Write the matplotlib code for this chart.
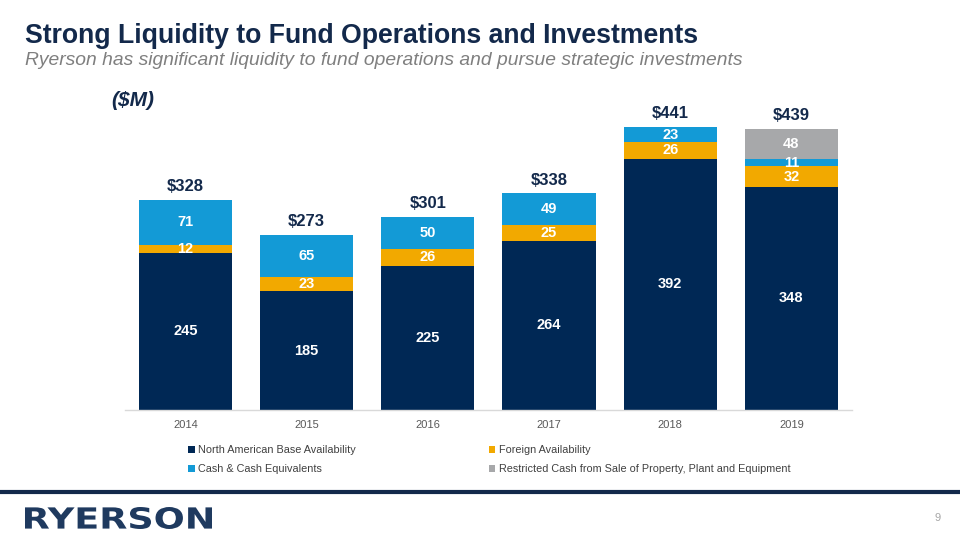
import matplotlib
matplotlib.use("Agg")
import matplotlib.pyplot as plt
from matplotlib.patches import Patch, PathPatch
from matplotlib.textpath import TextPath
from matplotlib.font_manager import FontProperties
from matplotlib.transforms import Affine2D, IdentityTransform
import numpy as np

plt.rcParams['font.family'] = ['Liberation Sans', 'DejaVu Sans']

years = ['2014', '2015', '2016', '2017', '2018', '2019']
na_base = [245, 185, 225, 264, 392, 348]
foreign = [12, 23, 26, 25, 26, 32]
cash = [71, 65, 50, 49, 23, 11]
restricted = [0, 0, 0, 0, 0, 48]
totals = ['$328', '$273', '$301', '$338', '$441', '$439']

series_names = ['North American Base Availability', 'Foreign Availability',
                'Cash & Cash Equivalents',
                'Restricted Cash from Sale of Property, Plant and Equipment']
colors = ['#002855', '#F2A900', '#139AD6', '#A7A8AA']
navy = '#13294B'

fig = plt.figure(figsize=(9.6, 5.4), dpi=100)
ax = fig.add_axes([0.130, 0.2407, 0.7575, 0.57])

x = np.arange(len(years))
bottom = np.zeros(len(years))
for vals, col in zip([na_base, foreign, cash, restricted], colors):
    vals = np.array(vals, dtype=float)
    ax.bar(x, vals, 0.77, bottom=bottom, color=col, zorder=2)
    for xi, b, v in zip(x, bottom, vals):
        if v > 0:
            ax.text(xi, b + v / 2, f'{int(v)}', ha='center', va='center',
                    color='white', fontsize=10.5, fontweight='bold', zorder=3)
    bottom += vals

for xi, top, lab in zip(x, bottom, totals):
    ax.text(xi, top + 9, lab, ha='center', va='bottom', color=navy,
            fontsize=12, fontweight='bold')

ax.set_xlim(-0.5, 5.5)
ax.set_ylim(0, 480)
ax.set_xticks(x)
ax.set_xticklabels(years, fontsize=8, color='#595959')
ax.tick_params(axis='x', length=0, pad=7)
ax.set_yticks([])
for s in ['top', 'right', 'left']:
    ax.spines[s].set_visible(False)
ax.spines['bottom'].set_color('#D9D9D9')
ax.spines['bottom'].set_linewidth(1)

# legend
handles = [Patch(facecolor=c) for c in colors]
order = [0, 2, 1, 3]
leg = fig.legend([handles[i] for i in order], [series_names[i] for i in order],
                 ncol=2, loc='upper left', bbox_to_anchor=(0.1905, 0.186),
                 frameon=False, fontsize=7.85, handlelength=0.6, handleheight=0.6,
                 handletextpad=0.3, columnspacing=12.2, labelspacing=0.82,
                 borderpad=0)
for t in leg.get_texts():
    t.set_color('#404040')

# titles
fig.text(0.026, 0.921, 'Strong Liquidity to Fund Operations and Investments',
         fontsize=19.2, fontweight='bold', color=navy, va='baseline')
fig.text(0.026, 0.880, 'Ryerson has significant liquidity to fund operations and pursue strategic investments',
         fontsize=13.9, style='italic', color='#7F7F7F', va='baseline')
fig.text(0.116, 0.804, '($M)', fontsize=15, fontweight='bold', style='italic',
         color=navy, va='baseline')

# footer
fig.add_artist(plt.Line2D([0, 1], [0.088, 0.088], color=navy, linewidth=3,
                          transform=fig.transFigure))
# logo text, stretched to fit its box (pixels)
tp = TextPath((0, 0), 'RYERSON', size=20,
              prop=FontProperties(family='DejaVu Sans', weight='bold'))
bb = tp.get_extents()
sx = 187 / bb.width
sy = 22 / bb.height
logo_tr = Affine2D().translate(-bb.x0, -bb.y0).scale(sx, sy).translate(25, 11)
fig.add_artist(PathPatch(logo_tr.transform_path(tp), facecolor='#1F3A5F',
                         edgecolor='none', transform=IdentityTransform()))
fig.text(0.977, 0.035, '9', fontsize=8, color='#A6A6A6', ha='center', va='baseline')

fig.savefig('out.png', dpi=100)
